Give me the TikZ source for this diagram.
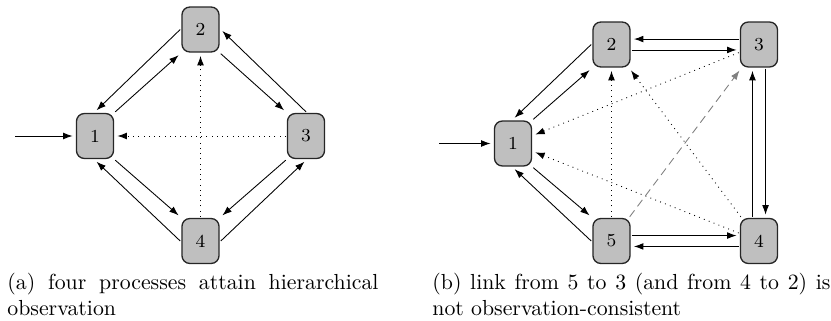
\documentclass[tikz,border=0pt]{standalone}
\usetikzlibrary{arrows.meta}
\begin{document}
\begin{tikzpicture}[x=0.4587pt,y=-0.4587pt,
  proc/.style={draw=black!85, line width=0.6pt, fill=black!25, rounded corners=3.6pt,
    minimum width=17pt, minimum height=20.6pt, inner sep=0pt, outer sep=0.8pt,
    font=\fontsize{8.4}{10}\selectfont},
  arr/.style={-{Latex[length=4.3pt,width=3.1pt]}, thin, shorten >=1pt},
  obs/.style={arr, dotted},
  bad/.style={arr, dash pattern=on 3.7pt off 2.3pt, draw=gray, -{Latex[length=4.3pt,width=3.1pt,fill=gray,color=gray]}},
  captext/.style={anchor=north west, inner sep=0pt, align=justify}]
\useasboundingbox (0,0) rectangle (831,321);

% ---------- panel (a) ----------
\node[proc] (a1) at (95,136) {1};
\node[proc] (a2) at (200.5,29.5) {2};
\node[proc] (a3) at (306,136) {3};
\node[proc] (a4) at (200.5,241) {4};
\coordinate (ina) at (15,136);
\draw[arr] (ina) -- (a1);
\draw[arr] (a2.west) -- (a1.north);
\draw[arr] (a1.north east) -- (a2.south west);
\draw[arr] (a2.south east) -- (a3.north west);
\draw[arr] (a3.north) -- (a2.east);
\draw[arr] (a1.south east) -- (a4.north west);
\draw[arr] (a4.west) -- (a1.south);
\draw[arr] (a3.south west) -- (a4.north east);
\draw[arr] (a4.east) -- (a3.south);
\draw[obs] (a4) -- (a2);
\draw[obs] (a3) -- (a1);
\node[captext, text width=170.2pt] (capa) at (7,273)
  {\tolerance=9999\relax(a) four processes attain hierarchical\linebreak observation};

% ---------- panel (b) ----------
\node[proc] (b1) at (513,143.5) {1};
\node[proc] (b2) at (611.5,44.5) {2};
\node[proc] (b3) at (759,44.5) {3};
\node[proc] (b4) at (759,241) {4};
\node[proc] (b5) at (611.5,241) {5};
\coordinate (inb) at (439,143.5);
\draw[arr] (inb) -- (b1);
\draw[arr] (b2.west) -- (b1.north);
\draw[arr] (b1.north east) -- (b2.south west);
\draw[arr] (b1.south east) -- (b5.north west);
\draw[arr] (b5.west) -- (b1.south);
\draw[arr] ([yshift=2.5pt]b3.west) -- ([yshift=2.5pt]b2.east);
\draw[arr] ([yshift=-2.5pt]b2.east) -- ([yshift=-2.5pt]b3.west);
\draw[arr] ([xshift=3pt]b3.south) -- ([xshift=3pt]b4.north);
\draw[arr] ([xshift=-3pt]b4.north) -- ([xshift=-3pt]b3.south);
\draw[arr] ([yshift=2.5pt]b5.east) -- ([yshift=2.5pt]b4.west);
\draw[arr] ([yshift=-2.5pt]b4.west) -- ([yshift=-2.5pt]b5.east);
\draw[obs] (b5) -- (b2);
\draw[obs] (b3) -- (b1);
\draw[obs] (b4) -- (b1);
\draw[obs] (b4) -- (b2);
\draw[bad] (b5) -- (b3);
\node[captext, text width=182.6pt] (capb) at (432,273)
  {\tolerance=9999\relax(b) link from 5 to 3 (and from 4 to 2) is\linebreak not observation-consistent};
\end{tikzpicture}
\end{document}
